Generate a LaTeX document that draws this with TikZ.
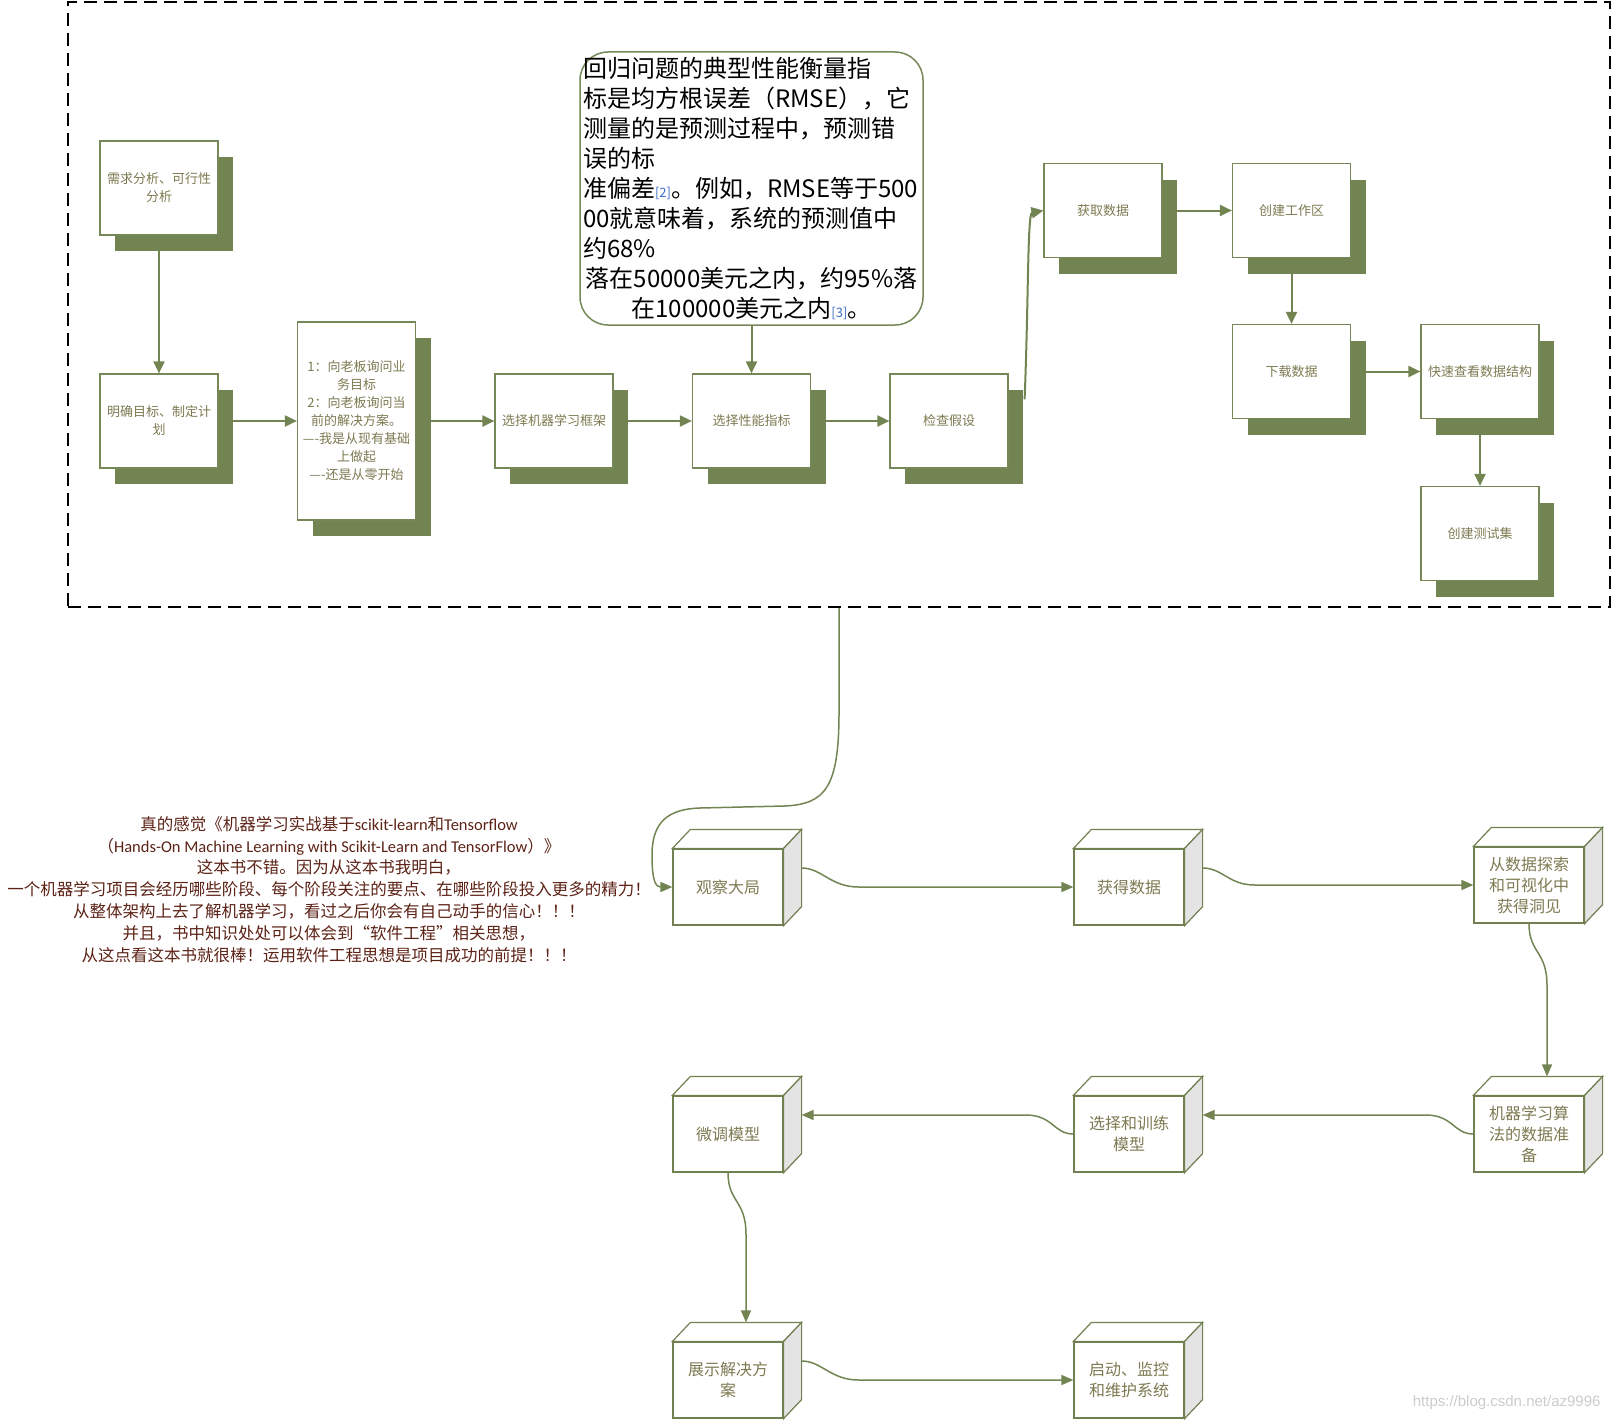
\documentclass[tikz,border=0pt]{standalone}
\usepackage{fontspec}
\setmainfont{Noto Sans CJK SC}
\newfontfamily\latinfont{Carlito}
\newfontfamily\markfont{Liberation Sans}
\usetikzlibrary{arrows.meta,shadows}

\definecolor{boxgreen}{RGB}{118,136,88}
\definecolor{shadegreen}{RGB}{114,132,82}
\definecolor{linegreen}{RGB}{114,132,82}
\definecolor{cubegreen}{RGB}{112,128,80}
\definecolor{sidegray}{RGB}{228,228,228}
\definecolor{textolive}{RGB}{125,122,82}
\definecolor{notebrown}{RGB}{92,34,22}
\definecolor{refblue}{RGB}{60,110,200}

\tikzstyle{stageframe} = [rectangle, draw=black, line width=1.5pt, dash pattern=on 13pt off 7pt, minimum width=1542pt, minimum height=605pt, inner sep=0pt]
\tikzstyle{block} = [rectangle, minimum width=118pt, minimum height=94pt, inner sep=2pt, text centered, align=center, draw=boxgreen, line width=1.2pt, fill=white, text=textolive, font=\fontsize{13}{18}\selectfont, drop shadow={shadow xshift=15pt, shadow yshift=-16pt, fill=shadegreen, opacity=1}]
\tikzstyle{bubble} = [rectangle, rounded corners=28pt, draw=boxgreen, line width=1.5pt, minimum width=343pt, minimum height=273pt, text width=337pt, inner xsep=3pt, inner ysep=1pt, align=left, font=\fontsize{24}{30}\selectfont]
\tikzstyle{cube} = [rectangle, minimum width=110pt, minimum height=76pt, inner sep=2pt, align=center, draw=cubegreen, line width=1.2pt, fill=white, text=textolive, font=\fontsize{16}{21}\selectfont]
\tikzstyle{cubeline} = [draw=cubegreen, line width=1.2pt]
\tikzstyle{note} = [align=center, text=notebrown, font=\fontsize{16.5}{21.8}\selectfont]
\tikzstyle{arrow} = [draw=linegreen, line width=2pt, -{Triangle[length=12pt,width=11pt]}]
\tikzstyle{thinarrow} = [draw=linegreen, line width=1.5pt, -{Triangle[length=12pt,width=10pt]}]

\newcommand{\refmark}[1]{{\fontsize{13}{13}\selectfont\color{refblue}[#1]}}

\begin{document}
\begin{tikzpicture}[x=1pt, y=-1pt, node distance=197.5pt]
    \useasboundingbox (0,0) rectangle (1612,1421);

    % Draw the dashed stage
    \node (stage) [stageframe] at (839,304.5) {};

    % Draw nodes
    \node (goal) [block] at (159,421) {明确目标、制定计\\划};
    \node (analysis) [block, node distance=233pt, above of=goal] {需求分析、可行性\\分析};
    \node (boss) [block, minimum height=198pt, right of=goal] {1：向老板询问业\\务目标\\2：向老板询问当\\前的解决方案。\\----我是从现有基础\\上做起\\----还是从零开始};
    \node (framework) [block, right of=boss] {选择机器学习框架};
    \node (metric) [block, right of=framework] {选择性能指标};
    \node (assume) [block, right of=metric] {检查假设};
    \node (rmse) [bubble, node distance=232.5pt, above of=metric] {回归问题的典型性能衡量指\\
        标是均方根误差（RMSE），它\\
        测量的是预测过程中，预测错\\
        误的标\\
        准偏差\refmark{2}。例如，RMSE等于500\\
        00就意味着，系统的预测值中\\
        约68\%\\
        \makebox[337pt]{落在50000美元之内，约95\%落}\\
        \makebox[337pt]{在100000美元之内\refmark{3}。}};
    \node (fetch) [block] at (1103,210.5) {获取数据};
    \node (workspace) [block, node distance=188.5pt, right of=fetch] {创建工作区};
    \node (download) [block, node distance=161pt, below of=workspace] {下载数据};
    \node (glance) [block, node distance=188.5pt, right of=download] {快速查看数据结构};
    \node (testset) [block, node distance=162pt, below of=glance] {创建测试集};

    \node (overview) [cube] at (728,887) {观察大局};
    \node (getdata) [cube, node distance=401pt, right of=overview] {获得数据};
    \node (explore) [cube, node distance=400pt, right of=getdata, yshift=2pt] {从数据探索\\和可视化中\\获得洞见};
    \node (prepare) [cube, node distance=249pt, below of=explore] {机器学习算\\法的数据准\\备};
    \node (train) [cube, node distance=400pt, left of=prepare] {选择和训练\\模型};
    \node (tune) [cube, node distance=401pt, left of=train] {微调模型};
    \node (present) [cube, node distance=246pt, below of=tune] {展示解决方\\案};
    \node (launch) [cube, node distance=401pt, right of=present] {启动、监控\\和维护系统};

    \foreach \cb in {overview,getdata,explore,prepare,train,tune,present,launch} {
        \draw [cubeline, fill=white] (\cb.north west) -- ++(18,-19) -- ([shift={(18,-19)}]\cb.north east) -- (\cb.north east) -- cycle;
        \draw [cubeline, fill=sidegray] (\cb.north east) -- ++(18,-19) -- ([shift={(18,-19)}]\cb.south east) -- (\cb.south east) -- cycle;
    }

    \node (note) [note] at (329,889.5) {真的感觉《机器学习实战基于{\latinfont scikit-learn}和{\latinfont Tensorflow}\\
        （{\latinfont Hands-On Machine Learning with Scikit-Learn and TensorFlow}）》\\
        这本书不错。因为从这本书我明白，\\
        一个机器学习项目会经历哪些阶段、每个阶段关注的要点、在哪些阶段投入更多的精力！\\
        从整体架构上去了解机器学习，看过之后你会有自己动手的信心！！！\\
        并且，书中知识处处可以体会到“软件工程”相关思想，\\
        从这点看这本书就很棒！运用软件工程思想是项目成功的前提！！！};
    \node (watermark) [anchor=east, text=gray!40, font=\markfont\fontsize{15}{15}\selectfont] at (1604,1403) {https://blog.csdn.net/az9996};

    % Draw connections
    \draw [arrow] (analysis) -- (goal);
    \draw [arrow] (goal) -- (boss);
    \draw [arrow] (boss) -- (framework);
    \draw [arrow] (framework) -- (metric);
    \draw [arrow] (metric) -- (assume);
    \draw [arrow] (rmse) -- (metric);
    \draw [arrow] ([shift={(16,26)}]assume.north east) .. controls +(4,-100) and +(-16,3) .. (fetch.west);
    \draw [arrow] (fetch) -- (workspace);
    \draw [arrow] (workspace) -- (download);
    \draw [arrow] (download) -- (glance);
    \draw [arrow] (glance) -- (testset);

    \draw [thinarrow] (stage.south) -- ++(0,105) .. controls +(0,75) and +(40,-2) .. (785,806) -- (700,808) .. controls (668,809) and (652,822) .. (652,855) .. controls (652,882) and (656,887) .. (overview.west);
    \draw [thinarrow] ([shift={(18,-19)}]overview.east) .. controls +(20,0) and +(-28,0) .. ++(57,19) -- (getdata.west);
    \draw [thinarrow] ([shift={(18,-19)}]getdata.east) .. controls +(20,0) and +(-26,0) .. ++(52,17) -- (explore.west);
    \draw [thinarrow] (explore.south) .. controls +(0,30) and +(0,-35) .. ++(18,62) -- ([shift={(18,-19)}]prepare.north);
    \draw [thinarrow] (prepare.west) .. controls +(-20,0) and +(28,0) .. ++(-48,-19) -- ([shift={(18,-19)}]train.east);
    \draw [thinarrow] (train.west) .. controls +(-20,0) and +(28,0) .. ++(-48,-19) -- ([shift={(18,-19)}]tune.east);
    \draw [thinarrow] (tune.south) .. controls +(0,30) and +(0,-35) .. ++(18,62) -- ([shift={(18,-19)}]present.north);
    \draw [thinarrow] ([shift={(18,-19)}]present.east) .. controls +(20,0) and +(-28,0) .. ++(57,19) -- (launch.west);

\end{tikzpicture}
\end{document}
